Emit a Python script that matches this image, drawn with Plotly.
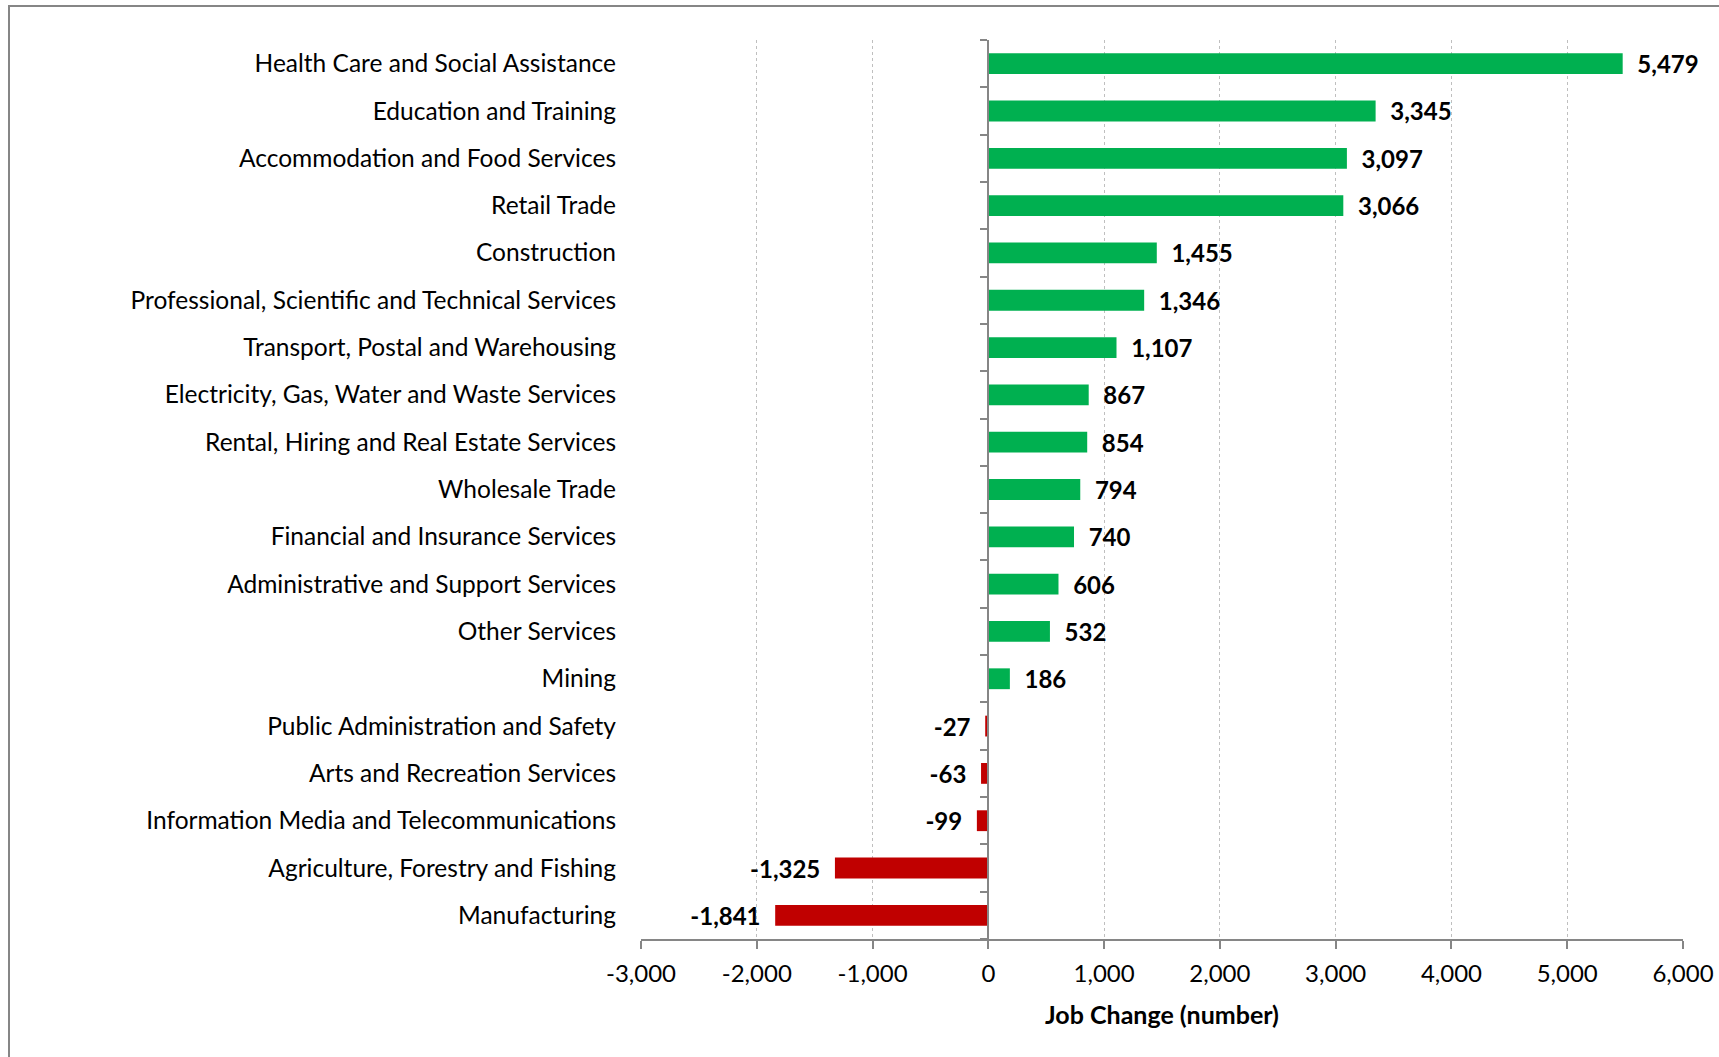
import plotly.graph_objects as go

industries = [
    "Health Care and Social Assistance",
    "Education and Training",
    "Accommodation and Food Services",
    "Retail Trade",
    "Construction",
    "Professional, Scientific and Technical Services",
    "Transport, Postal and Warehousing",
    "Electricity, Gas, Water and Waste Services",
    "Rental, Hiring and Real Estate Services",
    "Wholesale Trade",
    "Financial and Insurance Services",
    "Administrative and Support Services",
    "Other Services",
    "Mining",
    "Public Administration and Safety",
    "Arts and Recreation Services",
    "Information Media and Telecommunications",
    "Agriculture, Forestry and Fishing",
    "Manufacturing",
]
job_change = [5479, 3345, 3097, 3066, 1455, 1346, 1107, 867, 854, 794, 740, 606,
              532, 186, -27, -63, -99, -1325, -1841]
x_ticks = [-3000, -2000, -1000, 0, 1000, 2000, 3000, 4000, 5000, 6000]
x_tick_labels = [f"{v:,}" for v in x_ticks]

GREEN = "#00B050"
RED = "#C00000"
GRAY = "#868686"
FONT = "Lato"

W, H = 1719, 1057
L, R, T, B = 641, 36, 40, 118

NB = "\u00a0\u00a0"
colors = [GREEN if v >= 0 else RED for v in job_change]
labels = [(NB + f"{v:,}") if v >= 0 else (f"{v:,}" + NB) for v in job_change]

fig = go.Figure()
fig.add_trace(go.Bar(
    x=job_change, y=industries, orientation="h",
    marker=dict(color=colors, line=dict(width=0)),
    width=0.44,
    text=labels, textposition="outside", cliponaxis=False, constraintext="none",
    textfont=dict(family=FONT, size=24, color="black", weight="bold"),
    hoverinfo="x+y", showlegend=False,
))

n = len(industries)
fig.update_layout(
    width=W, height=H,
    margin=dict(l=L, r=R, t=T, b=B, pad=0, autoexpand=False),
    paper_bgcolor="white", plot_bgcolor="white",
    font=dict(family=FONT, size=24, color="black"),
    xaxis=dict(
        range=[x_ticks[0], x_ticks[-1]], tickvals=x_ticks, ticktext=x_tick_labels,
        automargin=False,
        showgrid=True, gridcolor="#BFBFBF", griddash="dot", gridwidth=1,
        zeroline=False, showline=True, linecolor=GRAY, linewidth=2,
        ticks="outside", ticklen=8, tickcolor=GRAY, tickwidth=2,
        tickfont=dict(family=FONT, size=24), ticklabelstandoff=4,
        title=dict(text="<b>Job Change (number)</b>", font=dict(family=FONT, size=25), standoff=21),
    ),
    yaxis=dict(
        type="category", categoryorder="array", categoryarray=industries,
        range=[n - 0.5, -0.5], showgrid=False, zeroline=False, showline=False,
        automargin=False,
        ticks="", tickfont=dict(family=FONT, size=24.5), ticklabelstandoff=24,
    ),
    yaxis2=dict(
        overlaying="y", anchor="free", automargin=False,
        position=(0 - x_ticks[0]) / (x_ticks[-1] - x_ticks[0]),
        range=[n - 0.5, -0.5], tickvals=[i - 0.5 for i in range(n + 1)],
        showticklabels=False, ticks="outside", ticklen=7, tickcolor=GRAY, tickwidth=2,
        showline=True, linecolor=GRAY, linewidth=2, showgrid=False, zeroline=False,
    ),
)
fig.add_trace(go.Scatter(x=[None], y=[None], yaxis="y2", showlegend=False, hoverinfo="skip"))

# outer chart frame (top and left edges visible)
pw, ph = W - L - R, H - T - B
fig.add_shape(type="rect", xref="paper", yref="paper",
              x0=(9 - L) / pw, x1=(W + 20 - L) / pw,
              y0=-(B + 20) / ph, y1=(H - B - 6) / ph,
              line=dict(color=GRAY, width=2), fillcolor="rgba(0,0,0,0)", layer="below")

fig.write_html("out.html", config={"displayModeBar": False},
               post_script="document.body.style.margin='0px';")
